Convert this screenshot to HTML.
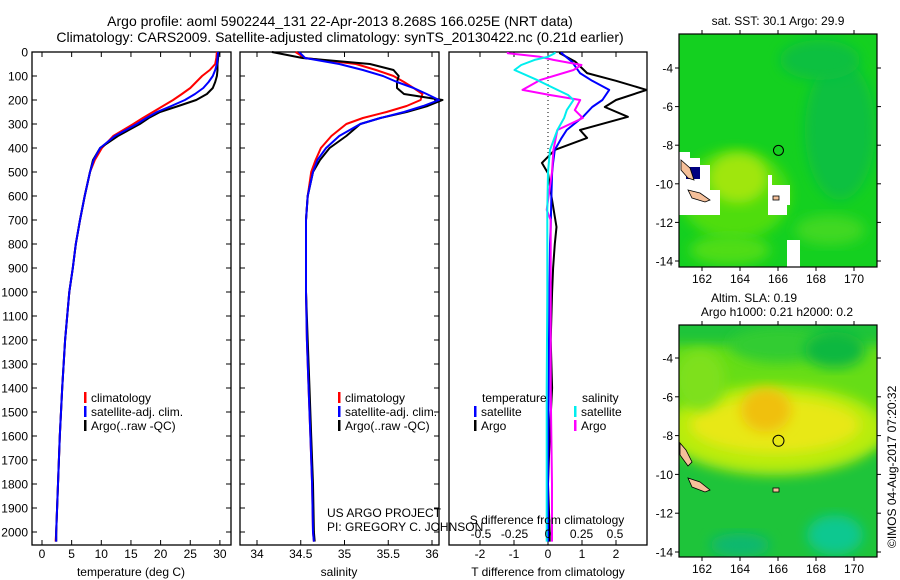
<!DOCTYPE html>
<html><head><meta charset="utf-8">
<style>
html,body{margin:0;padding:0;background:#fff;}
svg{display:block;font-family:"Liberation Sans",sans-serif;}
</style></head>
<body>
<svg id="fig" width="900" height="580" viewBox="0 0 900 580" xmlns="http://www.w3.org/2000/svg">
<defs>
<filter id="blur4" x="-20%" y="-20%" width="140%" height="140%"><feGaussianBlur stdDeviation="6"/></filter>
<filter id="blur2" x="-20%" y="-20%" width="140%" height="140%"><feGaussianBlur stdDeviation="2.5"/></filter>
<clipPath id="clipMap1"><rect x="679" y="34" width="198" height="233"/></clipPath>
<clipPath id="clipMap2"><rect x="679" y="325" width="198" height="232"/></clipPath>
<clipPath id="clipP3"><rect x="449" y="52" width="198" height="493"/></clipPath>
</defs>
<text x="340" y="26" font-size="14" text-anchor="middle">Argo profile: aoml 5902244_131 22-Apr-2013 8.268S 166.025E (NRT data)</text>
<text x="340" y="42" font-size="14" text-anchor="middle">Climatology: CARS2009. Satellite-adjusted climatology: synTS_20130422.nc (0.21d earlier)</text>
<g id="g1"></g>
<g id="g2"></g>
<g id="g3"></g>
<g id="gm1"></g>
<g id="gm2"></g>
<text x="327" y="517" font-size="12">US ARGO PROJECT</text>
<text x="327" y="531" font-size="12">PI: GREGORY C. JOHNSON</text>
<text transform="translate(896,548) rotate(-90)" font-size="12">©IMOS 04-Aug-2017 07:20:32</text>
</svg>
<script>
// ---------- data ----------
const depthTicks = [0,100,200,300,400,500,600,700,800,900,1000,1100,1200,1300,1400,1500,1600,1700,1800,1900,2000];
const tempTicks = [0,5,10,15,20,25,30];
const salTicks = [34,34.5,35,35.5,36];
const tdiffTicks = [-2,-1,0,1,2];
const sdiffTicks = [-0.5,-0.25,0,0.25,0.5];
const depthTS = [0,25,50,75,100,125,150,175,200,225,250,275,300,350,400,450,500,600,700,800,900,1000,1200,1400,1600,1800,2000,2040];
const tempArgo = [29.8,29.7,29.6,29.6,29.5,29.2,28.8,27.8,26.0,23.0,19.9,18.0,16.5,12.8,9.8,8.6,8.1,7.2,6.4,5.7,5.2,4.6,3.9,3.4,3.0,2.7,2.4,2.4];
const tempClim = [29.5,29.4,29.2,28.3,27.0,26.0,25.0,23.6,22.1,20.4,18.7,17.0,15.4,12.0,10.1,8.9,8.1,7.2,6.4,5.7,5.2,4.6,3.9,3.4,3.0,2.7,2.4,2.3];
const tempSat = [29.7,29.6,29.5,29.2,28.8,28.1,27.2,25.8,24.1,21.8,19.4,17.6,16.0,12.3,9.8,8.7,8.1,7.2,6.4,5.7,5.2,4.6,3.9,3.4,3.0,2.7,2.4,2.4];
const salArgo = [34.17,34.52,35.29,35.56,35.62,35.60,35.60,35.68,36.12,35.95,35.71,35.41,35.18,35.02,34.83,34.72,34.64,34.58,34.56,34.56,34.56,34.56,34.58,34.60,34.62,34.64,34.65,34.66];
const salClim = [34.44,34.55,35.13,35.36,35.56,35.68,35.79,35.89,35.87,35.71,35.48,35.21,35.02,34.85,34.73,34.67,34.62,34.58,34.56,34.56,34.56,34.56,34.57,34.59,34.61,34.63,34.64,34.65];
const salSat = [34.48,34.55,34.94,35.21,35.44,35.60,35.79,35.94,36.08,35.90,35.68,35.41,35.18,34.94,34.79,34.69,34.64,34.58,34.56,34.56,34.56,34.56,34.57,34.59,34.61,34.63,34.64,34.65];
const depthDiffT = [0,5,40,88,120,158,200,229,270,325,358,408,462,505,600,729,800,900,1000,1200,1400,1600,1800,2000,2040];
const tdiffArgo = [0.35,0.35,0.8,1.15,2.0,2.9,2.0,1.67,2.35,0.94,1.15,0.2,-0.18,0.0,0.1,0.25,0.2,0.15,0.12,0.08,0.12,0.05,0.0,0.05,0.05];
const tdiffSat = [0.4,0.4,0.7,0.94,1.3,1.8,1.6,1.3,1.03,0.55,0.4,0.2,0.15,0.12,0.1,0.08,0.06,0.05,0.04,0.03,0.02,0.01,0.0,0.0,0.0];
const depthDiffS = [0,5,20,33,54,75,117,158,179,200,242,275,325,408,500,658,700,1000,1400,1800,2000,2040];
const sdiffArgo = [-0.3,-0.3,-0.06,0.04,0.25,0.19,-0.06,-0.19,0.015,0.24,0.2,0.26,0.07,0.04,0.03,-0.01,0.02,0.02,0.02,0.03,0.03,0.03];
const sdiffSat = [0.05,0.05,0.0,-0.1,-0.2,-0.25,-0.08,0.07,0.15,0.19,0.14,0.12,0.07,0.015,0.0,-0.005,-0.005,-0.005,-0.01,-0.01,-0.01,-0.01];
const lonTicks = [162,164,166,168,170];
const latTicks = [-4,-6,-8,-10,-12,-14];
const argoLon = [166.025];
const argoLat = [-8.268];

// ---------- helpers ----------
const NS = "http://www.w3.org/2000/svg";
function mk(parent, tag, attrs, text){
  const e = document.createElementNS(NS, tag);
  for (const k in attrs) e.setAttribute(k, attrs[k]);
  if (text !== undefined) e.textContent = text;
  parent.appendChild(e);
  return e;
}
const top0 = 52, bot0 = 545;
const yD = d => top0 + d * 0.24;
function frame(g, x0, x1){
  const r = mk(g,'rect',{x:x0,y:top0,width:x1-x0,height:bot0-top0,fill:'none',stroke:'#000','stroke-width':1.3});
  
  
  depthTicks.forEach(d=>{
    mk(g,'line',{x1:x0,x2:x0+5,y1:yD(d),y2:yD(d),stroke:'#000'});
    mk(g,'line',{x1:x1-5,x2:x1,y1:yD(d),y2:yD(d),stroke:'#000'});
  });
}
function series(g, xs, ds, xf, color, name, w){
  let p = '';
  xs.forEach((v,i)=>{ p += (i?'L':'M') + xf(v).toFixed(1) + ' ' + yD(ds[i]).toFixed(1); });
  const e = mk(g,'path',{d:p,fill:'none',stroke:color,'stroke-width':w||2,'stroke-linejoin':'round'});
  
  
  return e;
}
function xTicks(g, ticks, xf, y0, labelY, fmt){
  ticks.forEach(t=>{
    const x = xf(t);
    mk(g,'line',{x1:x,x2:x,y1:top0,y2:top0+5,stroke:'#000'});
    mk(g,'line',{x1:x,x2:x,y1:bot0-5,y2:bot0,stroke:'#000'});
    const l = mk(g,'text',{x:x,y:labelY,'font-size':12,'text-anchor':'middle'}, fmt?fmt(t):String(t));
    
    
  });
}
function legend(g, x, y, items){
  items.forEach((it,i)=>{
    mk(g,'rect',{x:x,y:y+i*14-10,width:2.5,height:11,fill:it[0]});
    const t = mk(g,'text',{x:x+7,y:y+i*14,'font-size':12}, it[1]);
    
    
  });
}

// ---------- panel 1: temperature ----------
const g1 = document.getElementById('g1');
const xT = t => 42 + t * 5.93;
frame(g1, 32, 231);
depthTicks.forEach(d=>{
  const l = mk(g1,'text',{x:28,y:yD(d)+4.5,'font-size':12,'text-anchor':'end'}, String(d));
  
  
});
xTicks(g1, tempTicks, xT, bot0, 558);
series(g1, tempClim, depthTS, xT, '#ff0000', 'temperature-climatology-line');
series(g1, tempArgo, depthTS, xT, '#000000', 'temperature-argo-line');
series(g1, tempSat, depthTS, xT, '#0000ff', 'temperature-satellite-line');
legend(g1, 84, 402, [['#f00','climatology'],['#00f','satellite-adj. clim.'],['#000','Argo(..raw -QC)']]);
mk(g1,'text',{x:131,y:576,'font-size':12,'text-anchor':'middle',},'temperature (deg C)');

// ---------- panel 2: salinity ----------
const g2 = document.getElementById('g2');
const xS = s => 257 + (s - 34) * 87.5;
frame(g2, 240, 439);
xTicks(g2, salTicks, xS, bot0, 558);
series(g2, salClim, depthTS, xS, '#ff0000', 'salinity-climatology-line');
series(g2, salArgo, depthTS, xS, '#000000', 'salinity-argo-line');
series(g2, salSat, depthTS, xS, '#0000ff', 'salinity-satellite-line');
legend(g2, 338, 402, [['#f00','climatology'],['#00f','satellite-adj. clim.'],['#000','Argo(..raw -QC)']]);
mk(g2,'text',{x:339,y:576,'font-size':12,'text-anchor':'middle',},'salinity');

// ---------- panel 3: differences ----------
const g3 = document.getElementById('g3');
const xTD = t => 548 + t * 34;
const xSD = s => 548 + s * 134;
mk(g3,'rect',{x:449,y:top0,width:198,height:bot0-top0,fill:'none',stroke:'#000','stroke-width':1.3,});
tdiffTicks.forEach(t=>{
  mk(g3,'line',{x1:xTD(t),x2:xTD(t),y1:top0,y2:top0+5,stroke:'#000'});
  mk(g3,'line',{x1:xTD(t),x2:xTD(t),y1:bot0-5,y2:bot0,stroke:'#000'});
  const l = mk(g3,'text',{x:xTD(t),y:558,'font-size':12,'text-anchor':'middle'},String(t));
  
  
});
mk(g3,'line',{x1:548,x2:548,y1:top0,y2:160,stroke:'#000','stroke-dasharray':'1 3',});
const c3 = mk(g3,'g',{'clip-path':'url(#clipP3)'});
series(c3, tdiffArgo, depthDiffT, xTD, '#000000', 'tdiff-argo-line');
series(c3, tdiffSat, depthDiffT, xTD, '#0000ff', 'tdiff-satellite-line');
series(c3, sdiffArgo, depthDiffS, xSD, '#ff00ff', 'sdiff-argo-line');
series(c3, sdiffSat, depthDiffS, xSD, '#00eeee', 'sdiff-satellite-line');
mk(g3,'text',{x:482,y:402,'font-size':12},'temperature');
mk(g3,'text',{x:582,y:402,'font-size':12},'salinity');
legend(g3, 474, 416, [['#00f','satellite'],['#000','Argo']]);
legend(g3, 574, 416, [['#0ee','satellite'],['#f0f','Argo']]);
mk(g3,'text',{x:547,y:524,'font-size':12,'text-anchor':'middle',},'S difference from climatology');
sdiffTicks.forEach(s=>{
  const l = mk(g3,'text',{x:xSD(s),y:538,'font-size':12,'text-anchor':'middle'},String(s));
  
  
});
mk(g3,'text',{x:548,y:576,'font-size':12,'text-anchor':'middle',},'T difference from climatology');

// ---------- maps ----------
function mapAxes(g, x0, y0, w, h, lonF, latF, labelY){
  mk(g,'rect',{x:x0,y:y0,width:w,height:h,fill:'none',stroke:'#000','stroke-width':1.2,});
  lonTicks.forEach(lo=>{
    const x = lonF(lo);
    mk(g,'line',{x1:x,x2:x,y1:y0-4,y2:y0,stroke:'#000'});
    mk(g,'line',{x1:x,x2:x,y1:y0+h,y2:y0+h+4,stroke:'#000'});
    const t = mk(g,'text',{x:x,y:labelY,'font-size':12,'text-anchor':'middle'},String(lo));
    
    
  });
  latTicks.forEach(la=>{
    const y = latF(la);
    mk(g,'line',{x1:x0-4,x2:x0,y1:y,y2:y,stroke:'#000'});
    mk(g,'line',{x1:x0+w,x2:x0+w+4,y1:y,y2:y,stroke:'#000'});
    const t = mk(g,'text',{x:x0-6,y:y+4.5,'font-size':12,'text-anchor':'end'},String(la));
    
    
  });
}
// map 1
const gm1 = document.getElementById('gm1');
const lon1 = lo => 702 + (lo - 162) * 19;
const lat1 = la => 68 + (-4 - la) * 19.3;
const m1 = mk(gm1,'g',{'clip-path':'url(#clipMap1)'});
mk(m1,'rect',{x:679,y:34,width:198,height:233,fill:'#14d020'});
mk(m1,'ellipse',{cx:735,cy:195,rx:55,ry:45,fill:'#50dd10',filter:'url(#blur4)'});
mk(m1,'ellipse',{cx:738,cy:178,rx:30,ry:25,fill:'#a0e610',filter:'url(#blur4)'});
mk(m1,'ellipse',{cx:840,cy:130,rx:35,ry:70,fill:'#10c040',filter:'url(#blur4)'});
mk(m1,'ellipse',{cx:820,cy:60,rx:40,ry:20,fill:'#10c040',filter:'url(#blur4)'});
mk(m1,'ellipse',{cx:730,cy:250,rx:40,ry:15,fill:'#50dd15',filter:'url(#blur4)'});
mk(m1,'ellipse',{cx:830,cy:230,rx:35,ry:15,fill:'#40d820',filter:'url(#blur4)'});
mk(m1,'polygon',{points:'679,152 690,152 690,158 700,158 700,165 710,165 710,190 720,190 720,215 679,215',fill:'#fff'});
mk(m1,'rect',{x:686,y:167,width:14,height:12,fill:'#000080'});
mk(m1,'polygon',{points:'768,175 772,175 772,185 790,185 790,205 787,205 787,215 768,215',fill:'#fff'});
mk(m1,'polygon',{points:'787,240 800,240 800,267 787,267',fill:'#fff'});
mk(m1,'polygon',{points:'681,160 690,168 694,180 688,178 681,170',fill:'#f5c09a',stroke:'#000','stroke-width':0.8});
mk(m1,'polygon',{points:'688,190 700,193 710,200 705,202 692,198',fill:'#f5c09a',stroke:'#000','stroke-width':0.8});
mk(m1,'rect',{x:773,y:196,width:6,height:4,fill:'#f5c09a',stroke:'#000','stroke-width':0.8});
mapAxes(gm1, 679, 34, 198, 233, lon1, lat1, 283);
argoLon.forEach((lo,i)=>{ mk(gm1,'circle',{cx:lon1(lo),cy:lat1(argoLat[i]),r:5,fill:'none',stroke:'#000',}); });
mk(gm1,'text',{x:778,y:25,'font-size':12,'text-anchor':'middle',},'sat. SST: 30.1 Argo: 29.9');
// map 2
const gm2 = document.getElementById('gm2');
const lon2 = lo => 702 + (lo - 162) * 19;
const lat2 = la => 358 + (-4 - la) * 19.4;
const m2 = mk(gm2,'g',{'clip-path':'url(#clipMap2)'});
mk(m2,'rect',{x:679,y:325,width:198,height:232,fill:'#1ec43a'});
mk(m2,'rect',{x:660,y:345,width:240,height:100,fill:'#66dd18',filter:'url(#blur4)'});
mk(m2,'ellipse',{cx:775,cy:430,rx:110,ry:45,fill:'#b8ec10',filter:'url(#blur4)'});
mk(m2,'ellipse',{cx:775,cy:425,rx:85,ry:28,fill:'#e8e812',filter:'url(#blur4)'});
mk(m2,'ellipse',{cx:766,cy:410,rx:25,ry:22,fill:'#f0c010',filter:'url(#blur4)'});
mk(m2,'ellipse',{cx:700,cy:380,rx:25,ry:30,fill:'#7ee01a',filter:'url(#blur4)'});
mk(m2,'ellipse',{cx:780,cy:345,rx:50,ry:18,fill:'#30cc30',filter:'url(#blur4)'});
mk(m2,'ellipse',{cx:835,cy:350,rx:30,ry:18,fill:'#10b840',filter:'url(#blur4)'});
mk(m2,'ellipse',{cx:835,cy:535,rx:28,ry:20,fill:'#10c890',filter:'url(#blur4)'});
mk(m2,'ellipse',{cx:740,cy:545,rx:30,ry:12,fill:'#10b870',filter:'url(#blur4)'});
mk(m2,'polygon',{points:'680,443 686,450 692,462 688,466 680,455',fill:'#f5c09a',stroke:'#000','stroke-width':0.8});
mk(m2,'polygon',{points:'688,478 700,482 710,490 705,492 692,487',fill:'#f5c09a',stroke:'#000','stroke-width':0.8});
mk(m2,'rect',{x:773,y:488,width:6,height:4,fill:'#f5c09a',stroke:'#000','stroke-width':0.8});
mapAxes(gm2, 679, 325, 198, 232, lon2, lat2, 573);
argoLon.forEach((lo,i)=>{ mk(gm2,'circle',{cx:lon2(lo),cy:lat2(argoLat[i]),r:5.5,fill:'none',stroke:'#000',}); });
mk(gm2,'text',{x:754,y:302,'font-size':12,'text-anchor':'middle',},'Altim. SLA: 0.19');
mk(gm2,'text',{x:777,y:316,'font-size':12,'text-anchor':'middle',},'Argo h1000: 0.21 h2000: 0.2');
</script>
</body></html>
